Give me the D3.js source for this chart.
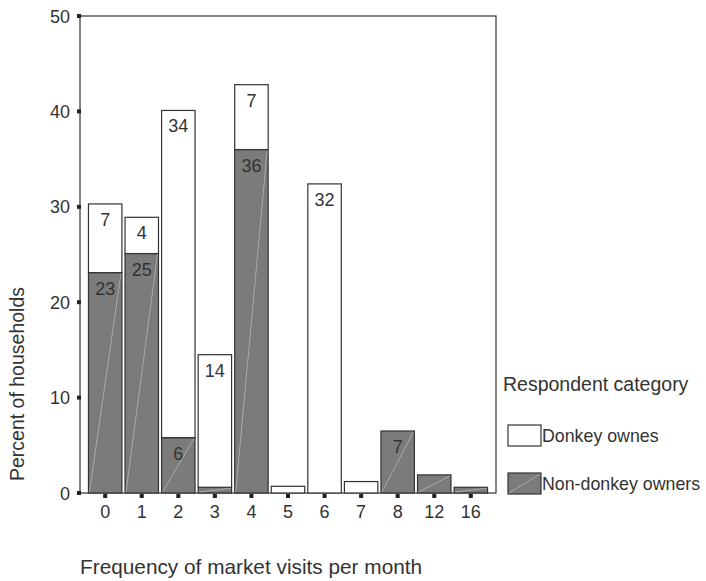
<!DOCTYPE html>
<html>
<head>
<meta charset="utf-8">
<script src="https://cdn.jsdelivr.net/npm/d3@7"></script>
<style>
  body { margin: 0; background: #fff; }
  text { font-family: "Liberation Sans", Arial, sans-serif; fill: #333; }
</style>
</head>
<body>
<svg width="706" height="581"></svg>
<script>
// market visit categories and stacked percentages
var visits = ["0", "1", "2", "3", "4", "5", "6", "7", "8", "12", "16"];
var nonDonkey = [23.1, 25.1, 5.8, 0.6, 36.0, 0, 0, 0, 6.5, 1.9, 0.6];
var donkey = [7.2, 3.8, 34.3, 13.9, 6.8, 0.7, 32.4, 1.2, 0, 0, 0];
var yTicks = [0, 10, 20, 30, 40, 50];
var seriesNames = ["Donkey ownes", "Non-donkey owners"];

var svg = d3.select("svg");
var plot = { left: 80, right: 496, top: 16, bottom: 493 };

var x = d3.scaleBand()
    .domain(visits)
    .range([87, 489])
    .paddingInner(0.085)
    .paddingOuter(0.04);

var y = d3.scaleLinear()
    .domain([0, 50])
    .range([plot.bottom, plot.top]);

var darkFill = "#7b7b7b", edge = "#333";

// frame
svg.append("rect")
    .attr("x", plot.left).attr("y", plot.top)
    .attr("width", plot.right - plot.left).attr("height", plot.bottom - plot.top)
    .attr("fill", "none").attr("stroke", edge).attr("stroke-width", 1.2);

var rows = visits.map(function (v, i) {
    return { key: v, lo: nonDonkey[i], hi: donkey[i] };
});

var g = svg.append("g");

// non-donkey (bottom)
rows.forEach(function (d) {
    if (d.lo <= 0) return;
    var x0 = x(d.key), w = x.bandwidth();
    g.append("rect")
        .attr("x", x0).attr("y", y(d.lo))
        .attr("width", w).attr("height", y(0) - y(d.lo))
        .attr("fill", darkFill).attr("stroke", edge).attr("stroke-width", 1.2);
    g.append("line")
        .attr("x1", x0 + 1).attr("y1", y(0) - 1)
        .attr("x2", x0 + w - 1).attr("y2", y(d.lo) + 1)
        .attr("stroke", "#c8c8c8").attr("stroke-width", 0.6);
});

// donkey owners (top)
rows.forEach(function (d) {
    if (d.hi <= 0) return;
    g.append("rect")
        .attr("x", x(d.key)).attr("y", y(d.lo + d.hi))
        .attr("width", x.bandwidth()).attr("height", y(d.lo) - y(d.lo + d.hi))
        .attr("fill", "#fff").attr("stroke", edge).attr("stroke-width", 1.2);
});

// value labels
rows.forEach(function (d) {
    var cx = x(d.key) + x.bandwidth() / 2;
    if (d.hi >= 3.5) {
        g.append("text")
            .attr("x", cx).attr("y", y(d.lo + d.hi) + 22)
            .attr("text-anchor", "middle").attr("font-size", 18)
            .text(Math.round(d.hi));
    }
    if (d.lo >= 3.5) {
        g.append("text")
            .attr("x", cx).attr("y", y(d.lo) + 22)
            .attr("text-anchor", "middle").attr("font-size", 18)
            .text(Math.round(d.lo));
    }
});

// y ticks
yTicks.forEach(function (t) {
    svg.append("rect")
        .attr("x", 77).attr("y", y(t) - 2)
        .attr("width", 4).attr("height", 4)
        .attr("fill", "#222");
    svg.append("text")
        .attr("x", 70).attr("y", y(t) + 6.5)
        .attr("text-anchor", "end").attr("font-size", 18)
        .text(t);
});

// x ticks
visits.forEach(function (v) {
    var cx = x(v) + x.bandwidth() / 2;
    svg.append("rect")
        .attr("x", cx - 2).attr("y", plot.bottom + 1)
        .attr("width", 4).attr("height", 4)
        .attr("fill", "#222");
    svg.append("text")
        .attr("x", cx).attr("y", 518)
        .attr("text-anchor", "middle").attr("font-size", 18)
        .text(v);
});

// axis titles
svg.append("text")
    .attr("x", 80).attr("y", 574)
    .attr("font-size", 20.8)
    .text("Frequency of market visits per month");

svg.append("text")
    .attr("transform", "translate(24,384) rotate(-90)")
    .attr("text-anchor", "middle").attr("font-size", 19.5)
    .text("Percent of households");

// legend
var lg = svg.append("g");
lg.append("text")
    .attr("x", 503).attr("y", 391)
    .attr("font-size", 19.5)
    .text("Respondent category");

[["#fff", 425], [darkFill, 473]].forEach(function (s, i) {
    lg.append("rect")
        .attr("x", 508).attr("y", s[1])
        .attr("width", 33).attr("height", 21)
        .attr("fill", s[0]).attr("stroke", edge).attr("stroke-width", 1.2);
    if (i === 1) {
        lg.append("line")
            .attr("x1", 509).attr("y1", s[1] + 20)
            .attr("x2", 540).attr("y2", s[1] + 1)
            .attr("stroke", "#c8c8c8").attr("stroke-width", 0.6);
    }
    lg.append("text")
        .attr("x", 542).attr("y", s[1] + 17)
        .attr("font-size", 17.8)
        .text(seriesNames[i]);
});
</script>
</body>
</html>
